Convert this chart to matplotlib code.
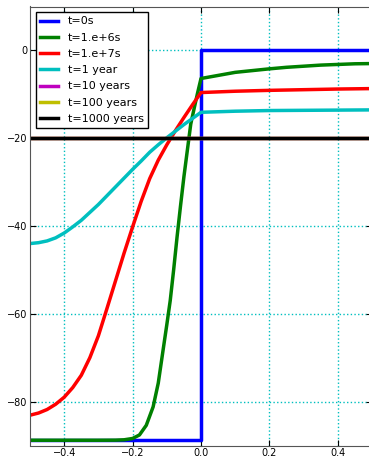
import numpy as np
import matplotlib.pyplot as plt

# values
x_step = [-0.5, 0.0, 0.0, 0.5]
t0 = [-88.8, -88.8, 0.0, 0.0]

x_green = [-0.5, -0.3, -0.25, -0.225, -0.2, -0.18, -0.16, -0.14, -0.125, -0.11,
           -0.1, -0.09, -0.08, -0.07, -0.06, -0.05, -0.04, -0.03, -0.02, -0.01,
           0.0, 0.05, 0.1, 0.15, 0.2, 0.25, 0.3, 0.35, 0.4, 0.45, 0.5]
t1e6 = [-88.8, -88.8, -88.78, -88.7, -88.4, -87.6, -85.4, -81.2, -75.8, -67.8,
        -62.5, -57.0, -50.0, -42.5, -35.5, -28.8, -22.8, -16.8, -13.2, -9.7,
        -6.4, -5.7, -5.0, -4.6, -4.2, -3.85, -3.6, -3.35, -3.2, -3.05, -3.0]

x_red = [-0.5, -0.475, -0.45, -0.425, -0.4, -0.375, -0.35, -0.325, -0.3, -0.275,
         -0.25, -0.225, -0.2, -0.175, -0.15, -0.125, -0.1, -0.075, -0.05, -0.025,
         0.0, 0.1, 0.2, 0.3, 0.4, 0.5]
t1e7 = [-83.1, -82.6, -81.8, -80.6, -79.0, -76.8, -74.0, -70.0, -65.0, -58.8,
        -52.5, -46.2, -40.2, -34.4, -29.2, -25.0, -21.5, -18.3, -15.3, -12.4,
        -9.6, -9.3, -9.1, -8.95, -8.8, -8.7]

x_cyan = [-0.5, -0.475, -0.45, -0.425, -0.4, -0.375, -0.35, -0.325, -0.3, -0.275,
          -0.25, -0.225, -0.2, -0.175, -0.15, -0.125, -0.1, -0.075, -0.05, -0.025,
          0.0, 0.1, 0.2, 0.3, 0.4, 0.5]
t1yr = [-44.0, -43.8, -43.4, -42.7, -41.6, -40.2, -38.7, -36.9, -35.1, -33.1,
        -31.1, -29.1, -27.1, -25.2, -23.2, -21.5, -19.9, -18.4, -16.9, -15.5,
        -14.1, -13.85, -13.7, -13.65, -13.6, -13.55]

x_flat = [-0.5, 0.5]
t10yr = [-20.0, -20.0]
t100yr = [-20.0, -20.0]
t1000yr = [-20.0, -20.0]

fig = plt.figure(figsize=(3.69, 4.58), dpi=100)
ax = fig.add_axes([30 / 369, 12.5 / 458, 342 / 369, 439 / 458])

lw = 2.5
ax.plot(x_step, t0, color='b', lw=lw, label='t=0s')
ax.plot(x_green, t1e6, color='g', lw=lw, label='t=1.e+6s')
ax.plot(x_red, t1e7, color='r', lw=lw, label='t=1.e+7s')
ax.plot(x_cyan, t1yr, color='c', lw=lw, label='t=1 year')
ax.plot(x_flat, t10yr, color='m', lw=lw, label='t=10 years')
ax.plot(x_flat, t100yr, color='y', lw=lw, label='t=100 years')
ax.plot(x_flat, t1000yr, color='k', lw=lw, label='t=1000 years')

ax.set_xlim(-0.5, 0.5)
ax.set_ylim(-90, 10)
ax.set_xticks([-0.4, -0.2, 0.0, 0.2, 0.4])
ax.set_yticks([-80, -60, -40, -20, 0])
ax.grid(True, color='c', linestyle=':', linewidth=1)
ax.tick_params(direction='in', top=True, right=True, labelsize=7, length=4, pad=2)
for s in ax.spines.values():
    s.set_color('#555555')

leg = ax.legend(loc='upper left', fontsize=8, fancybox=False, framealpha=1,
                handlelength=1.6, handletextpad=0.9, labelspacing=0.56,
                borderaxespad=0.5)
leg.get_frame().set_edgecolor('k')

fig.savefig('out.png', dpi=100)
